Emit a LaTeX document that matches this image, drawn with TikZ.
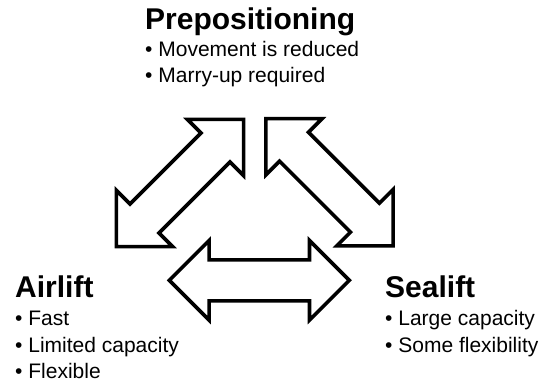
\documentclass[tikz,border=0pt]{standalone}
\usepackage{fontspec}
\setmainfont{Liberation Sans}
\usetikzlibrary{shapes.arrows}

\begin{document}
\begin{tikzpicture}[x=1pt, y=-1pt, line join=miter]
            \useasboundingbox (0,0) rectangle (544,385);

            \tikzset{head/.style={font=\fontsize{30}{36}\selectfont\bfseries, anchor=base west, inner sep=0pt},
                     item/.style={font=\fontsize{21}{25}\selectfont, anchor=base west, inner sep=0pt},
                     link/.style={double arrow, draw, line width=3.6pt, inner xsep=0pt, inner ysep=18.7pt,
                                  minimum height=180pt, double arrow head extend=19.3pt}}

            \node[head] (pre) at (145,30) {Prepositioning};
            \node[item] (pre1) at ([yshift=-27pt]pre.base west) {• Movement is reduced};
            \node[item] (pre2) at ([yshift=-26pt]pre1.base west) {• Marry-up required};

            \node[head] (air) at (15,297) {Airlift};
            \node[item] (air1) at ([yshift=-28pt]air.base west) {• Fast};
            \node[item] (air2) at ([yshift=-27pt]air1.base west) {• Limited capacity};
            \node[item] (air3) at ([yshift=-26pt]air2.base west) {• Flexible};

            \node[head] (sea) at (385,297) {Sealift};
            \node[item] (sea1) at ([yshift=-28pt]sea.base west) {• Large capacity};
            \node[item] (sea2) at ([yshift=-27pt]sea1.base west) {• Some flexibility};

            \node[link, rotate=45] (airpre) at (180,183) {};
            \node[link, rotate=-45] (seapre) at (329.5,182.2) {};
            \node[link] (airsea) at (259.3,280.3) {};
         \end{tikzpicture}
\end{document}
